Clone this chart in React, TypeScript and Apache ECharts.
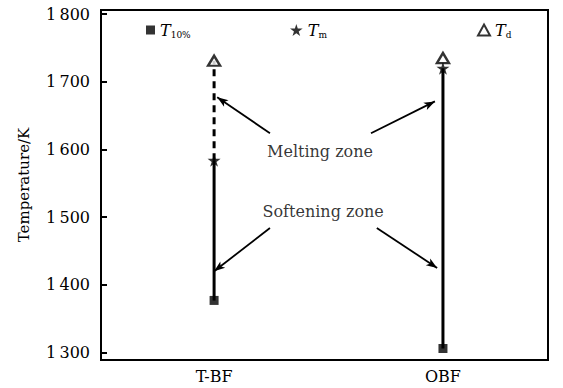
import React, { useEffect, useRef } from "react";
import * as echarts from "echarts";

const categories = ["T-BF", "OBF"];
const categoryX = [25.3, 76.5];
const t10 = [1377, 1306];
const tm = [1584, 1720];
const td = [1731, 1735];
const yTicks = [1300, 1400, 1500, 1600, 1700, 1800];
const annotations = [
  { text: "Melting zone", x: 49.0, y: 1597 },
  { text: "Softening zone", x: 49.7, y: 1509 },
];
const arrows = [
  [[37.8, 1624], [26.0, 1677]],
  [[60.4, 1624], [74.7, 1671]],
  [[37.8, 1484], [25.3, 1420]],
  [[61.7, 1484], [75.2, 1425]],
];

const STAR = "path://M50,0 L61,35 L98,35 L68,57 L79,91 L50,70 L21,91 L32,57 L2,35 L39,35 Z";
const FONT = "DejaVu Serif";

export default function App() {
  const ref = useRef<HTMLDivElement>(null);
  useEffect(() => {
    const chart = echarts.init(ref.current!, null, { renderer: "svg" });
    const legendText = {
      fontFamily: FONT,
      fontSize: 16,
      color: "#000",
      rich: {
        t: { fontFamily: FONT, fontStyle: "italic", fontSize: 16, color: "#000" },
        s: { fontFamily: FONT, fontSize: 9, color: "#000", padding: [9, 0, 0, 0] },
      },
    };
    const legendFmt = (name: string) => {
      if (name === "T10%") return "{t|T}{s|10%}";
      if (name === "Tm") return "{t|T}{s|m}";
      return "{t|T}{s|d}";
    };
    const lineSeries = (data: number[][], dashed = false) => ({
      type: "line",
      data,
      symbol: "none",
      silent: true,
      lineStyle: { color: "#000", width: 3, type: dashed ? [7, 5] : "solid" },
      z: 2,
    });
    chart.setOption({
      animation: false,
      backgroundColor: "#fff",
      grid: { left: 101, right: 15, top: 10, bottom: 28, show: true, borderColor: "#000", borderWidth: 2 },
      legend: [
        { data: ["T10%"], left: 141, top: 17, itemWidth: 9, itemHeight: 9, itemGap: 4, formatter: legendFmt, textStyle: legendText },
        { data: ["Tm"], left: 285, top: 17, itemWidth: 13, itemHeight: 12, formatter: legendFmt, textStyle: legendText },
        { data: ["Td"], left: 472, top: 17, itemWidth: 12, itemHeight: 11, formatter: legendFmt, textStyle: legendText },
      ],
      xAxis: {
        type: "value",
        min: 0,
        max: 100,
        splitLine: { show: false },
        axisLine: { lineStyle: { color: "#000", width: 2 } },
        axisTick: { show: false },
        axisLabel: {
          customValues: categoryX,
          formatter: (v: number) => {
            const i = categoryX.indexOf(v);
            return i >= 0 ? categories[i] : "";
          },
          fontFamily: FONT,
          fontSize: 16,
          color: "#000",
          margin: 8,
        },
      },
      yAxis: {
        type: "value",
        min: 1289,
        max: 1806,
        name: "Temperature/K",
        nameLocation: "middle",
        nameGap: 70,
        nameTextStyle: { fontFamily: FONT, fontSize: 15, color: "#000" },
        splitLine: { show: false },
        axisLine: { lineStyle: { color: "#000", width: 2 } },
        axisTick: { customValues: yTicks, inside: true, length: 6, lineStyle: { color: "#000", width: 2 } },
        axisLabel: {
          customValues: yTicks,
          formatter: (v: number) => {
            const s = String(v);
            return s.slice(0, 1) + "\u2009" + s.slice(1);
          },
          fontFamily: FONT,
          fontSize: 16,
          color: "#000",
          margin: 11,
        },
      },
      series: [
        lineSeries([[categoryX[0], t10[0]], [categoryX[0], tm[0]]]),
        lineSeries([[categoryX[0], tm[0]], [categoryX[0], td[0]]], true),
        lineSeries([[categoryX[1], t10[1]], [categoryX[1], tm[1]]]),
        {
          name: "T10%",
          type: "scatter",
          symbol: "rect",
          symbolSize: 9,
          itemStyle: { color: "#000" },
          data: categoryX.map((x, i) => [x, t10[i]]),
          z: 5,
        },
        {
          name: "Tm",
          type: "scatter",
          symbol: STAR,
          symbolSize: 13,
          itemStyle: { color: "#000" },
          data: categoryX.map((x, i) => [x, tm[i]]),
          z: 5,
        },
        {
          name: "Td",
          type: "scatter",
          symbol: "triangle",
          symbolSize: [12, 10],
          itemStyle: { color: "#fff", borderColor: "#000", borderWidth: 2.4 },
          data: categoryX.map((x, i) => [x, td[i]]),
          z: 5,
        },
        {
          name: "annot",
          type: "scatter",
          symbolSize: 0,
          silent: true,
          data: annotations.map((a) => [a.x, a.y, a.text]),
          label: {
            show: true,
            position: "inside",
            formatter: (p: any) => p.data[2],
            fontFamily: FONT,
            fontSize: 16,
            color: "#000",
          },
          markLine: {
            silent: true,
            symbol: ["none", "arrow"],
            symbolSize: [6, 11],
            label: { show: false },
            lineStyle: { color: "#000", width: 1.8, type: "solid" },
            data: arrows.map((a) => [{ coord: a[0] }, { coord: a[1] }]),
          },
        },
      ],
    });
    return () => chart.dispose();
  }, []);
  return <div ref={ref} style={{ position: "fixed", left: 0, top: 0, width: 563, height: 388 }} />;
}
